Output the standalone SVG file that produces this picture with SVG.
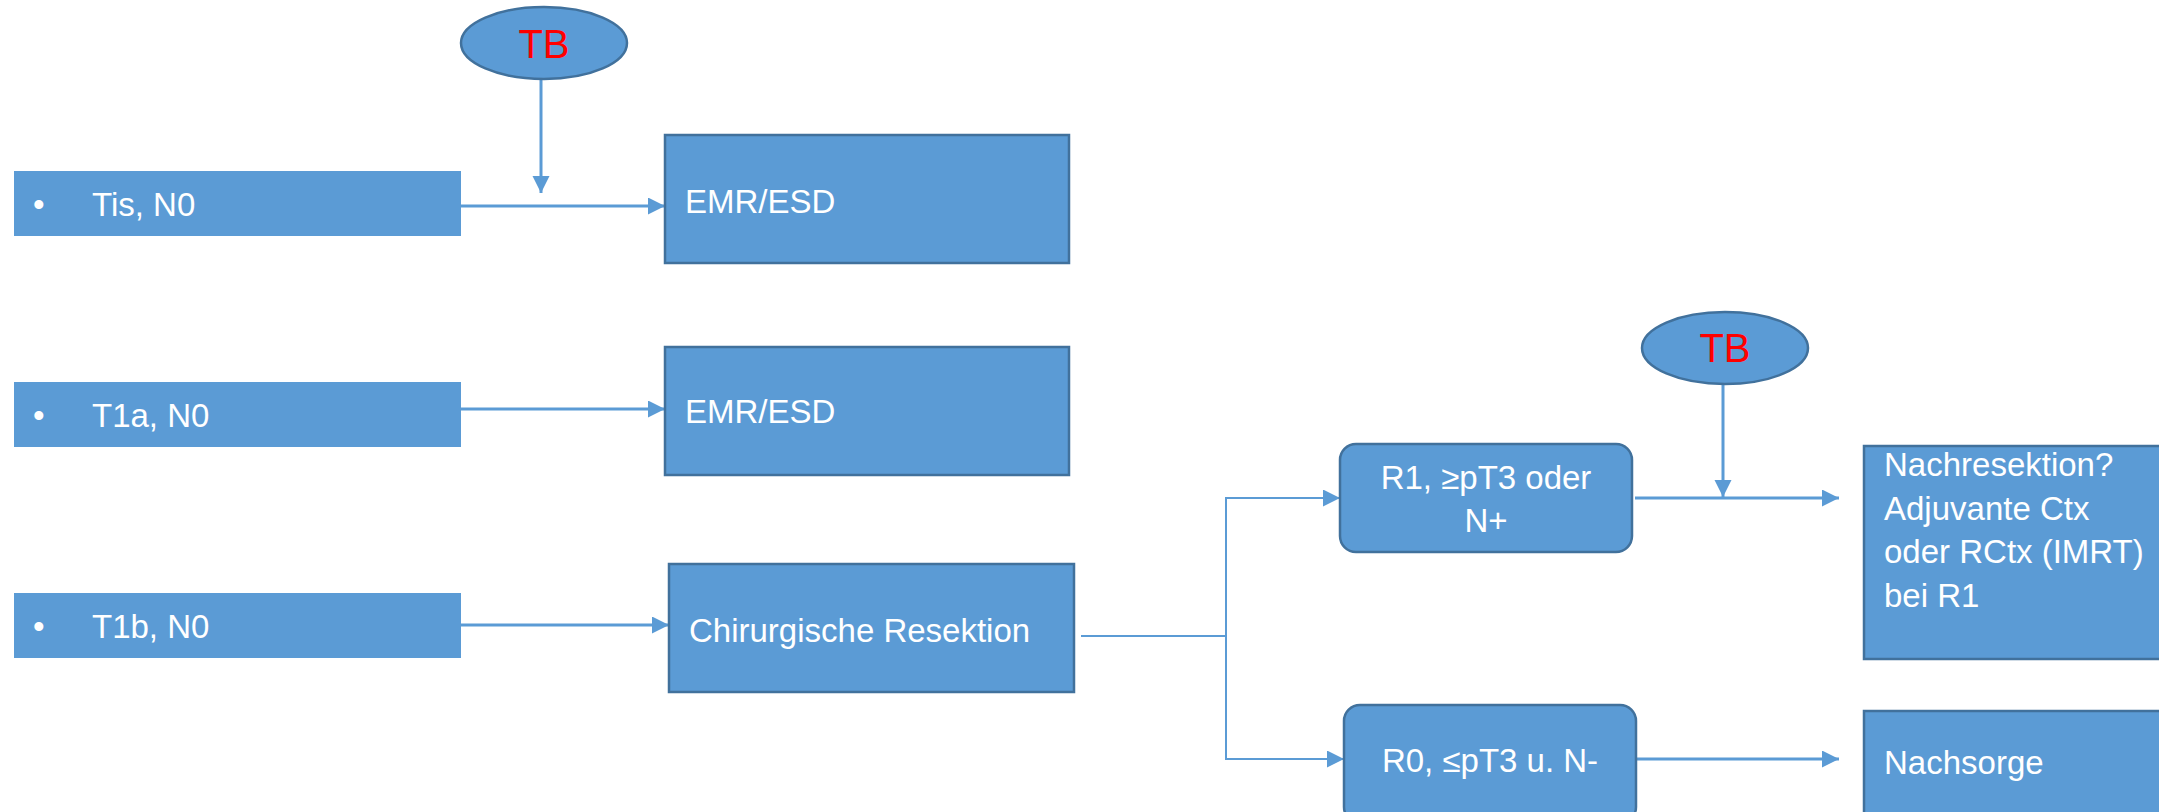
<svg xmlns="http://www.w3.org/2000/svg" width="2159" height="812" viewBox="0 0 2159 812">
<style>
.box{fill:#5B9BD5;stroke:#41719C;stroke-width:2.5}
.plain{fill:#5B9BD5}
.t{font-family:"Liberation Sans",Arial,sans-serif;font-size:33px;fill:#FFFFFF}
.tb{font-family:"Liberation Sans",Arial,sans-serif;font-size:40px;fill:#FF0000}
.c{stroke:#5B9BD5;stroke-width:3;fill:none}
.cthin{stroke:#5B9BD5;stroke-width:2;fill:none}
</style>
<defs>
<marker id="ah" markerUnits="userSpaceOnUse" markerWidth="18" markerHeight="18" refX="17" refY="8.5" orient="auto">
<path d="M0,0 L17,8.5 L0,17 z" fill="#5B9BD5"/>
</marker>
</defs>
<rect width="2159" height="812" fill="#FFFFFF"/>
<g id="connectors">
<line class="c" x1="541" y1="79" x2="541" y2="193" marker-end="url(#ah)"/>
<line class="c" x1="461" y1="206" x2="665" y2="206" marker-end="url(#ah)"/>
<line class="c" x1="461" y1="409" x2="665" y2="409" marker-end="url(#ah)"/>
<line class="c" x1="461" y1="625" x2="669" y2="625" marker-end="url(#ah)"/>
<line class="cthin" x1="1081" y1="636" x2="1226" y2="636"/>
<polyline class="cthin" points="1226,497 1226,759 1344,759" marker-end="url(#ah)"/>
<line class="cthin" x1="1225" y1="498" x2="1340" y2="498" marker-end="url(#ah)"/>
<line class="c" x1="1723" y1="384" x2="1723" y2="497" marker-end="url(#ah)"/>
<line class="c" x1="1635" y1="498" x2="1839" y2="498" marker-end="url(#ah)"/>
<line class="c" x1="1636" y1="759" x2="1839" y2="759" marker-end="url(#ah)"/>
</g>
<g id="tb1">
<ellipse class="box" cx="544" cy="43" rx="83" ry="36"/>
<text class="tb" x="544" y="58" text-anchor="middle">TB</text>
</g>
<g id="tis">
<rect class="plain" x="14" y="171" width="447" height="65"/>
<text class="t" x="33" y="216">•</text>
<text class="t" x="92" y="216">Tis, N0</text>
</g>
<g id="emr1">
<rect class="box" x="665" y="135" width="404" height="128"/>
<text class="t" x="685" y="213">EMR/ESD</text>
</g>
<g id="t1a">
<rect class="plain" x="14" y="382" width="447" height="65"/>
<text class="t" x="33" y="427">•</text>
<text class="t" x="92" y="427">T1a, N0</text>
</g>
<g id="emr2">
<rect class="box" x="665" y="347" width="404" height="128"/>
<text class="t" x="685" y="423">EMR/ESD</text>
</g>
<g id="t1b">
<rect class="plain" x="14" y="593" width="447" height="65"/>
<text class="t" x="33" y="638">•</text>
<text class="t" x="92" y="638">T1b, N0</text>
</g>
<g id="chir">
<rect class="box" x="669" y="564" width="405" height="128"/>
<text class="t" x="689" y="642">Chirurgische Resektion</text>
</g>
<g id="r1">
<rect class="box" x="1340" y="444" width="292" height="108" rx="16" ry="16"/>
<text class="t" x="1486" y="489" text-anchor="middle">R1, ≥pT3 oder</text>
<text class="t" x="1486" y="532" text-anchor="middle">N+</text>
</g>
<g id="r0">
<rect class="box" x="1344" y="705" width="292" height="118" rx="16" ry="16"/>
<text class="t" x="1490" y="772" text-anchor="middle">R0, ≤pT3 u. N-</text>
</g>
<g id="tb2">
<ellipse class="box" cx="1725" cy="348" rx="83" ry="36"/>
<text class="tb" x="1725" y="362" text-anchor="middle">TB</text>
</g>
<g id="nachresektion">
<rect class="box" x="1864" y="446" width="310" height="213"/>
<text class="t" x="1884" y="476">Nachresektion?</text>
<text class="t" x="1884" y="520">Adjuvante Ctx</text>
<text class="t" x="1884" y="563">oder RCtx (IMRT)</text>
<text class="t" x="1884" y="607">bei R1</text>
</g>
<g id="nachsorge">
<rect class="box" x="1864" y="711" width="310" height="120"/>
<text class="t" x="1884" y="774">Nachsorge</text>
</g>
</svg>
